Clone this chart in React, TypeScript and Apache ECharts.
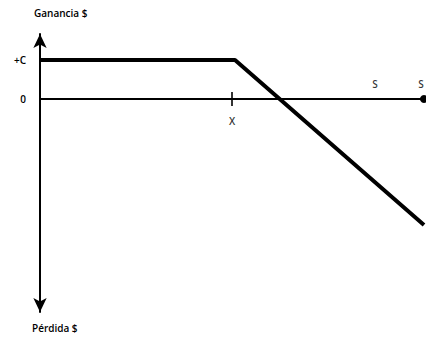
import React, { useEffect, useRef } from "react";
import * as echarts from "echarts";

// Payoff (pixel-scaled units): premium +C until strike X, then falling
const payoffX = [0, 195, 384];
const payoffY = [39, 39, -126];
const premiumC = 39;
const strikeX = 192;
const yTickValues = [0, premiumC];
const yTickLabels = ["0", "+C"];
const xTickValues = [strikeX];
const xTickLabels = ["X"];
const sLabelsX = [335, 381];
const sLabelsText = ["S", "S"];
const yTitleTop = "Ganancia $";
const yTitleBottom = "Pérdida $";

const FONT = "'Open Sans', 'DejaVu Sans', sans-serif";

export default function App() {
  const ref = useRef<HTMLDivElement>(null);
  useEffect(() => {
    if (!ref.current) return;
    const chart = echarts.init(ref.current, undefined, { renderer: "svg" });
    const labelStyle = {
      color: "#000",
      fontFamily: FONT,
      fontSize: 10,
      fontWeight: 600,
    };
    chart.setOption({
      animation: false,
      backgroundColor: "#ffffff",
      grid: { left: 40, right: 2, top: 34, bottom: 27, containLabel: false },
      xAxis: {
        type: "value",
        min: 0,
        max: 384,
        splitLine: { show: false },
        axisLine: {
          onZero: true,
          lineStyle: { color: "#000", width: 2 },
          symbol: ["none", "circle"],
          symbolSize: [8, 8],
        },
        axisTick: { show: false },
        axisLabel: { show: false },
      },
      yAxis: {
        type: "value",
        min: -213,
        max: 65,
        splitLine: { show: false },
        axisLine: {
          lineStyle: { color: "#000", width: 2 },
          symbol: ["arrow", "arrow"],
          symbolSize: [10, 14],
        },
        axisTick: { show: false },
        axisLabel: {
          customValues: yTickValues,
          formatter: (v: number) => yTickLabels[yTickValues.indexOf(v)] ?? "",
          margin: 14,
          ...labelStyle,
        },
      },
      graphic: [
        {
          type: "text",
          left: 34,
          top: 8,
          style: { text: yTitleTop, fill: "#000", font: `600 10px ${FONT}` },
        },
        {
          type: "text",
          left: 32,
          top: 323,
          style: { text: yTitleBottom, fill: "#000", font: `600 10px ${FONT}` },
        },
      ],
      series: [
        {
          type: "line",
          data: payoffX.map((x, i) => [x, payoffY[i]]),
          showSymbol: false,
          lineStyle: { color: "#000", width: 4 },
          z: 3,
        },
        {
          type: "scatter",
          data: xTickValues.map((x, i) => ({ value: [x, 0], name: xTickLabels[i] })),
          symbol: "rect",
          symbolSize: [2, 14],
          itemStyle: { color: "#000" },
          label: {
            show: true,
            position: "bottom",
            distance: 10,
            formatter: "{b}",
            ...labelStyle,
          },
          z: 4,
        },
        {
          type: "scatter",
          data: sLabelsX.map((x, i) => ({ value: [x, 0], name: sLabelsText[i] })),
          symbolSize: 0,
          label: {
            show: true,
            position: "top",
            distance: 10,
            formatter: "{b}",
            ...labelStyle,
          },
        },
      ],
    });
    return () => chart.dispose();
  }, []);
  return (
    <div
      ref={ref}
      style={{ position: "fixed", left: 0, top: 0, width: 426, height: 339 }}
    />
  );
}
